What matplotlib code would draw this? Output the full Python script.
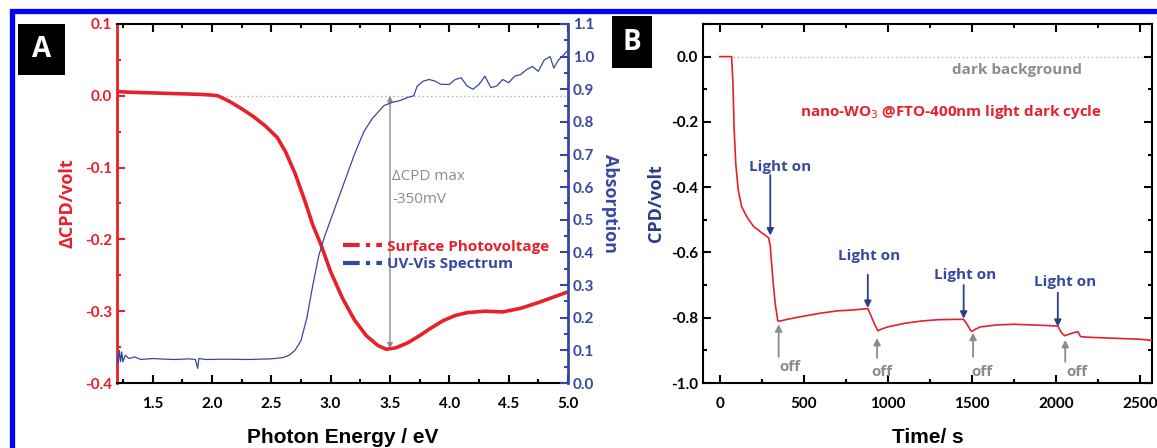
import matplotlib
matplotlib.use("Agg")
import matplotlib.pyplot as plt
from matplotlib.lines import Line2D
from matplotlib.patches import Rectangle
from matplotlib.ticker import MultipleLocator, FormatStrFormatter

# --- Panel A: surface photovoltage and UV-Vis absorption ---
spv_energy = [1.20, 1.30, 1.50, 1.70, 1.90, 2.00, 2.05, 2.15, 2.25, 2.35, 2.45, 2.55,
              2.62, 2.70, 2.78, 2.85, 2.92, 3.00, 3.10, 3.20, 3.30, 3.40, 3.47, 3.55,
              3.65, 3.75, 3.85, 3.95, 4.05, 4.15, 4.30, 4.45, 4.60, 4.75, 4.90, 5.00]
spv_values = [0.006, 0.005, 0.004, 0.003, 0.002, 0.001, 0.0, -0.008, -0.018, -0.029,
              -0.042, -0.058, -0.078, -0.108, -0.145, -0.180, -0.208, -0.245, -0.282,
              -0.312, -0.334, -0.348, -0.353, -0.351, -0.344, -0.334, -0.323, -0.313,
              -0.306, -0.302, -0.300, -0.301, -0.296, -0.288, -0.279, -0.273]

uv_energy = [1.20, 1.21, 1.22, 1.23, 1.24, 1.25, 1.27, 1.30, 1.35, 1.40, 1.50, 1.60,
             1.70, 1.80, 1.86, 1.88, 1.89, 1.95, 2.10, 2.30, 2.50, 2.60, 2.65, 2.70,
             2.75, 2.80, 2.85, 2.90, 2.95, 3.00, 3.05, 3.10, 3.15, 3.20, 3.28, 3.35,
             3.45, 3.52, 3.58, 3.65, 3.70, 3.73, 3.78, 3.83, 3.88, 3.93, 4.00, 4.05,
             4.10, 4.15, 4.20, 4.25, 4.30, 4.35, 4.40, 4.45, 4.50, 4.55, 4.60, 4.65,
             4.70, 4.75, 4.80, 4.85, 4.88, 4.92, 4.95, 5.00]
uv_values = [0.09, 0.06, 0.10, 0.065, 0.095, 0.065, 0.085, 0.075, 0.080, 0.072, 0.075,
             0.073, 0.072, 0.074, 0.072, 0.045, 0.075, 0.072, 0.073, 0.072, 0.074,
             0.078, 0.085, 0.10, 0.13, 0.20, 0.30, 0.39, 0.45, 0.50, 0.55, 0.60, 0.65,
             0.70, 0.77, 0.81, 0.85, 0.86, 0.865, 0.875, 0.88, 0.91, 0.925, 0.93,
             0.925, 0.915, 0.915, 0.93, 0.935, 0.91, 0.90, 0.915, 0.94, 0.905, 0.91,
             0.93, 0.92, 0.94, 0.945, 0.96, 0.97, 0.955, 0.99, 1.00, 0.965, 0.99,
             1.00, 1.02]

spv_max_energy = 3.5
spv_max_value = -0.352

# --- Panel B: CPD light/dark cycles ---
time_s = [0, 70, 78, 85, 95, 110, 130, 160, 200, 250, 290, 300, 315, 330, 345, 360,
          400, 500, 600, 700, 800, 880, 900, 920, 940, 960, 1000, 1100, 1200, 1300,
          1400, 1450, 1470, 1490, 1500, 1520, 1550, 1650, 1750, 1850, 1950, 2010,
          2030, 2050, 2080, 2110, 2130, 2145, 2200, 2300, 2400, 2500, 2580]
cpd_values = [0.0, 0.0, -0.08, -0.22, -0.33, -0.41, -0.46, -0.49, -0.52, -0.54,
              -0.555, -0.58, -0.68, -0.76, -0.81, -0.81, -0.805, -0.795, -0.786,
              -0.779, -0.776, -0.772, -0.795, -0.82, -0.84, -0.835, -0.828, -0.817,
              -0.81, -0.806, -0.805, -0.805, -0.82, -0.838, -0.842, -0.835, -0.828,
              -0.822, -0.82, -0.822, -0.824, -0.826, -0.845, -0.855, -0.85, -0.845,
              -0.843, -0.858, -0.86, -0.862, -0.864, -0.866, -0.87]

light_on_t = [300, 880, 1450, 2010]
light_on_tip = [-0.548, -0.770, -0.803, -0.828]
light_on_tail = [-0.363, -0.668, -0.700, -0.723]
light_on_label_t = [357, 887, 1458, 2054]
light_on_label_y = [-0.338, -0.612, -0.668, -0.689]

off_t = [350, 935, 1506, 2054]
off_tip = [-0.820, -0.862, -0.846, -0.868]
off_tail = [-0.920, -0.923, -0.920, -0.935]
off_label_t = [417, 963, 1560, 2125]
off_label_y = [-0.950, -0.966, -0.966, -0.966]

RED = "#e8202c"
BLUE = "#3848a0"
NAVY = "#2c3c8c"
GREY = "#8c8c8c"
TICK_FONT = "Lato"
LABEL_FONT = "Liberation Sans"

fig = plt.figure(figsize=(11.57, 4.48), dpi=100)

# blue frame (cut off on the right and bottom like the reference)
fig.patches.append(Rectangle((11.5 / 1157, -0.1), 1.2, 1.1 - 11.5 / 448,
                             transform=fig.transFigure, fill=False,
                             edgecolor="#0000ff", linewidth=3.8))

axA = fig.add_axes([117 / 1157, 65 / 448, 451 / 1157, 359 / 448])
axA2 = axA.twinx()
axB = fig.add_axes([703 / 1157, 65 / 448, 449 / 1157, 359 / 448])


def style_ticks(ax):
    for lab in ax.get_xticklabels() + ax.get_yticklabels():
        lab.set_fontfamily(TICK_FONT)
        lab.set_fontweight("bold")
        lab.set_fontsize(11)


# ---- panel A ----
axA.plot(spv_energy, spv_values, color=RED, lw=2.6, zorder=3)
axA2.plot(uv_energy, uv_values, color=BLUE, lw=0.9, zorder=2)
axA.plot([2.05, 5.0], [0, 0], color="#b0b0b0", lw=1, ls=(0, (1, 2)), zorder=1)
axA.annotate("", xy=(spv_max_energy, spv_max_value), xytext=(spv_max_energy, 0.0),
             arrowprops=dict(arrowstyle="<|-|>", color=GREY, lw=1, mutation_scale=8,
                             shrinkA=0, shrinkB=0))
axA.text(3.52, -0.112, "ΔCPD max", color=GREY, fontsize=11, fontfamily="Open Sans",
         va="center", ha="left")
axA.text(3.52, -0.145, "-350mV", color=GREY, fontsize=11, fontfamily="Open Sans",
         va="center", ha="left")

axA.set_xlim(1.2, 5.0)
axA.set_ylim(-0.4, 0.1)
axA2.set_ylim(0.0, 1.1)
axA.set_xticks([1.5, 2.0, 2.5, 3.0, 3.5, 4.0, 4.5, 5.0])
axA.xaxis.set_minor_locator(MultipleLocator(0.25))
axA.yaxis.set_major_locator(MultipleLocator(0.1))
axA.yaxis.set_minor_locator(MultipleLocator(0.05))
axA2.yaxis.set_major_locator(MultipleLocator(0.1))
axA2.yaxis.set_minor_locator(MultipleLocator(0.05))
axA.xaxis.set_major_formatter(FormatStrFormatter("%.1f"))
axA.yaxis.set_major_formatter(FormatStrFormatter("%.1f"))
axA2.yaxis.set_major_formatter(FormatStrFormatter("%.1f"))

axA.tick_params(axis="x", which="both", direction="in", top=True, colors="black",
                length=6, width=1.5, pad=10)
axA.tick_params(axis="x", which="minor", length=3)
axA.tick_params(axis="y", which="both", direction="in", colors=RED, length=6, width=1.5)
axA.tick_params(axis="y", which="minor", length=3)
axA2.tick_params(axis="y", which="both", direction="in", colors=BLUE, length=6, width=1.5)
axA2.tick_params(axis="y", which="minor", length=3)
for side in ["top", "bottom"]:
    axA.spines[side].set_linewidth(1.5)
axA.spines["left"].set_color(RED)
axA.spines["left"].set_linewidth(2)
axA2.spines["left"].set_visible(False)
axA2.spines["right"].set_color(BLUE)
axA2.spines["right"].set_linewidth(2)
axA.spines["right"].set_visible(False)
axA2.spines["top"].set_visible(False)
axA2.spines["bottom"].set_visible(False)

axA.set_xlabel("Photon Energy / eV", fontsize=15, fontfamily=LABEL_FONT,
               fontweight="bold", labelpad=12)
axA.set_ylabel("ΔCPD/volt", fontsize=13, fontfamily="Open Sans", fontweight="bold",
               color=RED, labelpad=6)
axA2.set_ylabel("Absorption", fontsize=13, fontfamily="Open Sans", fontweight="bold",
                color=BLUE, rotation=270, labelpad=18)
style_ticks(axA)
style_ticks(axA2)

handles = [Line2D([], [], color=RED, lw=3, ls=(0, (4, 1.5, 1, 1.5))),
           Line2D([], [], color=BLUE, lw=3, ls=(0, (4, 1.5, 1, 1.5)))]
leg = axA.legend(handles, ["Surface Photovoltage", "UV-Vis Spectrum"],
                 loc="center left", bbox_to_anchor=(0.47, 0.355), frameon=False,
                 handlelength=2.6, handletextpad=0.3, labelspacing=0.25,
                 prop=dict(family="Open Sans", weight="bold", size=11))
for txt, c in zip(leg.get_texts(), [RED, BLUE]):
    txt.set_color(c)

# ---- panel B ----
axB.plot(time_s, cpd_values, color=RED, lw=1.2, zorder=3)
axB.plot([80, 2600], [0, 0], color="#b8b8b8", lw=1, ls=(0, (1, 2)), zorder=1)

for t, tip, tail in zip(light_on_t, light_on_tip, light_on_tail):
    axB.annotate("", xy=(t, tip), xytext=(t, tail),
                 arrowprops=dict(arrowstyle="-|>", color=NAVY, lw=1.3,
                                 mutation_scale=10, shrinkA=0, shrinkB=0))
for t, y in zip(light_on_label_t, light_on_label_y):
    axB.text(t, y, "Light on", color=BLUE, fontsize=11, fontfamily="Open Sans",
             fontweight="bold", ha="center", va="center")
for t, tip, tail in zip(off_t, off_tip, off_tail):
    axB.annotate("", xy=(t, tip), xytext=(t, tail),
                 arrowprops=dict(arrowstyle="-|>", color=GREY, lw=1.3,
                                 mutation_scale=10, shrinkA=0, shrinkB=0))
for t, y in zip(off_label_t, off_label_y):
    axB.text(t, y, "off", color=GREY, fontsize=11, fontfamily="Open Sans",
             fontweight="bold", ha="center", va="center")

axB.text(1770, -0.04, "dark background", color=GREY, fontsize=11,
         fontfamily="Open Sans", fontweight="bold", ha="center", va="center")
axB.text(1375, -0.17, "nano-WO$_3$ @FTO-400nm light dark cycle", color=RED,
         fontsize=11, fontfamily="Open Sans", fontweight="bold", ha="center",
         va="center")

axB.set_xlim(-100, 2570)
axB.set_ylim(-1.0, 0.1)
axB.xaxis.set_major_locator(MultipleLocator(500))
axB.xaxis.set_minor_locator(MultipleLocator(250))
axB.yaxis.set_major_locator(MultipleLocator(0.2))
axB.yaxis.set_minor_locator(MultipleLocator(0.1))
axB.yaxis.set_major_formatter(FormatStrFormatter("%.1f"))
axB.tick_params(which="both", direction="in", top=True, right=True, length=6,
                width=1.5)
axB.tick_params(which="minor", length=3)
axB.tick_params(axis="x", pad=10)
for sp in axB.spines.values():
    sp.set_linewidth(1.5)
axB.set_xlabel("Time/ s", fontsize=15, fontfamily=LABEL_FONT, fontweight="bold",
               labelpad=12)
axB.set_ylabel("CPD/volt", fontsize=13, fontfamily="Open Sans", fontweight="bold",
               color=NAVY, labelpad=4)
style_ticks(axB)

# panel letters
for x0, y0, w, h, letter in [(18, 373, 47, 51, "A"), (612, 380, 40, 52, "B")]:
    fig.patches.append(Rectangle((x0 / 1157, y0 / 448), w / 1157, h / 448,
                                 transform=fig.transFigure, facecolor="black",
                                 edgecolor="none"))
    fig.text((x0 + w / 2) / 1157, (y0 + h / 2) / 448, letter, color="white",
             fontsize=20, fontfamily="Open Sans", fontweight="bold",
             ha="center", va="center")

fig.savefig("out.png", dpi=100)
